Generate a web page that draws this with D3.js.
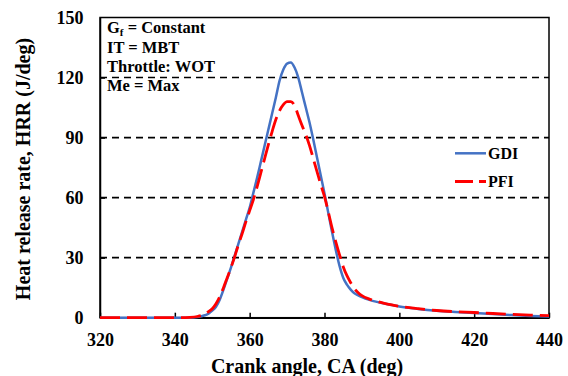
<!DOCTYPE html>
<html>
<head>
<meta charset="utf-8">
<script src="https://cdn.jsdelivr.net/npm/d3@7"></script>
<style>
  html, body { margin: 0; padding: 0; background: #fff; }
  svg { display: block; }
</style>
</head>
<body>
<svg id="chart" width="568" height="376"></svg>
<script>
// Crank angle (deg) samples for each series
const gdiAngle = [320, 330, 340, 344, 346, 348, 349, 350, 351, 352, 353, 354, 355, 356, 357, 358, 359, 360,
  361, 362, 363, 364, 365, 366, 367, 368, 369, 370, 371, 372, 373, 374, 375, 376, 377, 378, 379, 380,
  381, 382, 383, 384, 385, 386, 387, 388, 389, 390, 392, 394, 396, 398, 400, 405, 410, 415, 420, 425, 430, 435, 440];
// Heat release rate (J/deg), GDI
const gdiHRR = [0, 0, 0, 0, 0.3, 1.2, 2, 3.5, 5.5, 9, 14, 19.5, 25, 31, 37, 43, 49, 55,
  62.5, 70, 78, 86, 94, 102, 110, 118.5, 124, 127, 127.5, 125, 120, 112.5, 105, 97.5, 89, 80, 71, 62,
  52.5, 43, 34, 26, 20, 16.5, 14, 12.2, 11.2, 10.3, 8.9, 7.9, 7.1, 6.3, 5.6, 4.4, 3.5, 2.9, 2.4, 1.8, 1.3, 0.9, 0.6];

const pfiAngle = [320, 330, 340, 344, 346, 348, 349, 350, 351, 352, 353, 354, 355, 356, 357, 358, 359, 360,
  361, 362, 363, 364, 365, 366, 367, 368, 369, 370, 371, 372, 373, 374, 375, 376, 377, 378, 379, 380,
  381, 382, 383, 384, 385, 386, 387, 388, 389, 390, 392, 394, 396, 398, 400, 405, 410, 415, 420, 425, 430, 435, 440];
// Heat release rate (J/deg), PFI
const pfiHRR = [0, 0, 0, 0.2, 0.6, 1.8, 3, 4.5, 7, 10.5, 15, 20, 25, 30.5, 36.5, 42, 48, 53.5,
  59, 65.5, 72.5, 79.5, 86.5, 93, 99, 103.5, 106.5, 108, 108, 106, 101, 96, 91.5, 86, 79.5, 73, 66.5, 60.5,
  53, 45, 38, 31.5, 25.5, 21, 17.5, 14.5, 12.5, 11, 9.3, 8.2, 7.2, 6.4, 5.7, 4.5, 3.6, 3.0, 2.6, 2.1, 1.7, 1.3, 1.0];

const xTicks = [320, 340, 360, 380, 400, 420, 440];
const yTicks = [0, 30, 60, 90, 120, 150];
const gridValues = [30, 60, 90, 120];

const seriesNames = ["GDI", "PFI"];
const seriesColors = ["#4472C4", "#FF0000"];

const notes = ["= Constant", "IT = MBT", "Throttle: WOT", "Me = Max"];

const FONT = "Liberation Serif";
const svg = d3.select("#chart");
const plotLeft = 100, plotRight = 549, plotTop = 17.5, plotBottom = 317.7;

const x = d3.scaleLinear().domain([320, 440]).range([plotLeft, plotRight]);
const y = d3.scaleLinear().domain([0, 150]).range([plotBottom, plotTop]);

function styleText(sel, size) {
  return sel.style("font-family", FONT).style("font-weight", "bold")
    .style("font-size", size + "px").style("fill", "#000");
}

// Dashed horizontal gridlines
svg.append("g").selectAll("line").data(gridValues).join("line")
  .attr("x1", plotLeft).attr("x2", plotRight)
  .attr("y1", d => y(d)).attr("y2", d => y(d))
  .attr("stroke", "#000").attr("stroke-width", 1.6)
  .attr("stroke-dasharray", "7,5");

// Plot frame
svg.append("rect")
  .attr("x", plotLeft).attr("y", plotTop)
  .attr("width", plotRight - plotLeft).attr("height", plotBottom - plotTop)
  .attr("fill", "none").attr("stroke", "#000").attr("stroke-width", 1.5);

// Axes with inward ticks
const xAxis = svg.append("g").attr("transform", `translate(0,${plotBottom})`)
  .call(d3.axisBottom(x).tickValues(xTicks).tickSizeInner(-5).tickSizeOuter(0).tickPadding(16));
const yAxis = svg.append("g").attr("transform", `translate(${plotLeft},0)`)
  .call(d3.axisLeft(y).tickValues(yTicks).tickSizeInner(-5).tickSizeOuter(0).tickPadding(16.5));
[xAxis, yAxis].forEach(a => {
  a.select(".domain").attr("stroke", "#000").attr("stroke-width", 1.5);
  a.selectAll(".tick line").attr("stroke", "#000").attr("stroke-width", 1.5);
  styleText(a.selectAll(".tick text"), 18);
});
yAxis.selectAll(".tick").filter(d => d === 150 || d === 0).select("line").remove();

// Curves
const line = d3.line().x(d => x(d[0])).y(d => y(d[1])).curve(d3.curveMonotoneX);
const gdi = d3.zip(gdiAngle, gdiHRR);
const pfi = d3.zip(pfiAngle, pfiHRR);

svg.append("path").datum(gdi).attr("d", line)
  .attr("fill", "none").attr("stroke", seriesColors[0]).attr("stroke-width", 2.5);
svg.append("path").datum(pfi).attr("d", line)
  .attr("fill", "none").attr("stroke", seriesColors[1]).attr("stroke-width", 2.8)
  .attr("stroke-dasharray", "20,7");

// Legend
const legend = svg.append("g");
seriesNames.forEach((name, i) => {
  const ly = 153.3 + i * 28.2;
  legend.append("line")
    .attr("x1", 455).attr("x2", 486).attr("y1", ly).attr("y2", ly)
    .attr("stroke", seriesColors[i]).attr("stroke-width", i ? 2.8 : 2.5)
    .attr("stroke-dasharray", i ? "18,6" : null);
  styleText(legend.append("text").attr("x", 488).attr("y", ly + 5.8), 16).text(name);
});

// Operating condition notes
const g0 = styleText(svg.append("text").attr("x", 107).attr("y", 33), 16.5);
g0.append("tspan").text("G");
g0.append("tspan").attr("dy", 2.5).style("font-size", "11px").text("f");
g0.append("tspan").attr("dy", -2.5).text(" " + notes[0]);
notes.slice(1).forEach((t, i) => {
  styleText(svg.append("text").attr("x", 107).attr("y", 52.5 + i * 19), 16.5).text(t);
});

// Axis titles
styleText(svg.append("text")
  .attr("x", 307).attr("y", 372.5)
  .attr("text-anchor", "middle"), 20)
  .text("Crank angle, CA (deg)");
styleText(svg.append("text")
  .attr("transform", `translate(29.5,169) rotate(-90)`)
  .attr("text-anchor", "middle"), 20)
  .text("Heat release rate, HRR (J/deg)");
</script>
</body>
</html>
